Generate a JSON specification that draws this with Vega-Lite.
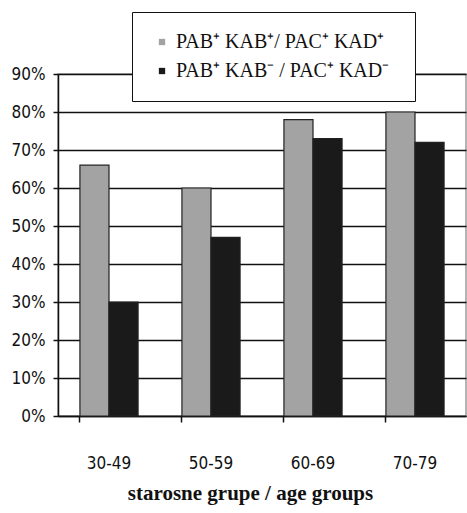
{
  "$schema": "https://vega.github.io/schema/vega-lite/v6.json",
  "autosize": "none",
  "width": 408,
  "height": 342,
  "padding": {"left": 58, "top": 74, "right": 1, "bottom": 97},
  "background": "white",
  "config": {
    "view": {"stroke": "#9a9a9a", "strokeWidth": 1.5},
    "font": "Liberation Serif"
  },
  "data": {
    "values": [
      {"group": "30-49", "series": "PAB⁺ KAB⁺/ PAC⁺ KAD⁺", "value": 0.66},
      {"group": "30-49", "series": "PAB⁺  KAB⁻ / PAC⁺ KAD⁻", "value": 0.30},
      {"group": "50-59", "series": "PAB⁺ KAB⁺/ PAC⁺ KAD⁺", "value": 0.60},
      {"group": "50-59", "series": "PAB⁺  KAB⁻ / PAC⁺ KAD⁻", "value": 0.47},
      {"group": "60-69", "series": "PAB⁺ KAB⁺/ PAC⁺ KAD⁺", "value": 0.78},
      {"group": "60-69", "series": "PAB⁺  KAB⁻ / PAC⁺ KAD⁻", "value": 0.73},
      {"group": "70-79", "series": "PAB⁺ KAB⁺/ PAC⁺ KAD⁺", "value": 0.80},
      {"group": "70-79", "series": "PAB⁺  KAB⁻ / PAC⁺ KAD⁻", "value": 0.72}
    ]
  },
  "mark": {"type": "bar", "stroke": "#222", "strokeWidth": 1.2},
  "encoding": {
    "x": {
      "field": "group",
      "type": "nominal",
      "sort": ["30-49", "50-59", "60-69", "70-79"],
      "scale": {"paddingInner": 0.43, "paddingOuter": 0.215},
      "axis": {
        "title": "starosne grupe / age groups",
        "titleFont": "Liberation Serif",
        "titleFontWeight": "bold",
        "titleFontSize": 21,
        "titleColor": "#111",
        "titleX": 192,
        "titleY": 77,
        "titleBaseline": "middle",
        "labelAngle": 0,
        "labelFont": "DejaVu Sans Condensed",
        "labelFontSize": 17,
        "labelColor": "#111",
        "labelPadding": 33,
        "bandPosition": 0,
        "tickColor": "#111",
        "tickSize": 6,
        "tickWidth": 1.5,
        "domainColor": "#111",
        "domainWidth": 1.5,
        "grid": false
      }
    },
    "xOffset": {
      "field": "series",
      "type": "nominal",
      "sort": ["PAB⁺ KAB⁺/ PAC⁺ KAD⁺", "PAB⁺  KAB⁻ / PAC⁺ KAD⁻"],
      "scale": {"paddingInner": 0, "paddingOuter": 0}
    },
    "y": {
      "field": "value",
      "type": "quantitative",
      "scale": {"domain": [0, 0.9], "nice": false},
      "axis": {
        "title": null,
        "format": ".0%",
        "values": [0, 0.1, 0.2, 0.3, 0.4, 0.5, 0.6, 0.7, 0.8, 0.9],
        "labelFont": "DejaVu Sans Condensed",
        "labelFontSize": 17,
        "labelColor": "#111",
        "labelPadding": 8,
        "tickColor": "#111",
        "tickSize": 5,
        "tickWidth": 1.5,
        "domainColor": "#111",
        "domainWidth": 1.5,
        "grid": true,
        "gridColor": "#111",
        "gridWidth": 1.5,
        "gridOpacity": 1
      }
    },
    "color": {
      "field": "series",
      "type": "nominal",
      "sort": ["PAB⁺ KAB⁺/ PAC⁺ KAD⁺", "PAB⁺  KAB⁻ / PAC⁺ KAD⁻"],
      "scale": {"range": ["#a3a3a3", "#1a1a1a"]},
      "legend": {
        "title": null,
        "orient": "none",
        "legendX": 74,
        "legendY": -62,
        "fillColor": "white",
        "strokeColor": "#111",
        "padding": 20,
        "rowPadding": 9,
        "symbolType": "square",
        "symbolSize": 40,
        "symbolStrokeWidth": 0,
        "labelFont": "Liberation Serif",
        "labelFontSize": 20,
        "labelColor": "#111",
        "labelOffset": 4,
        "labelLimit": 400,
        "encode": {"legend": {"update": {"strokeWidth": {"value": 1.5}}}}
      }
    }
  }
}
